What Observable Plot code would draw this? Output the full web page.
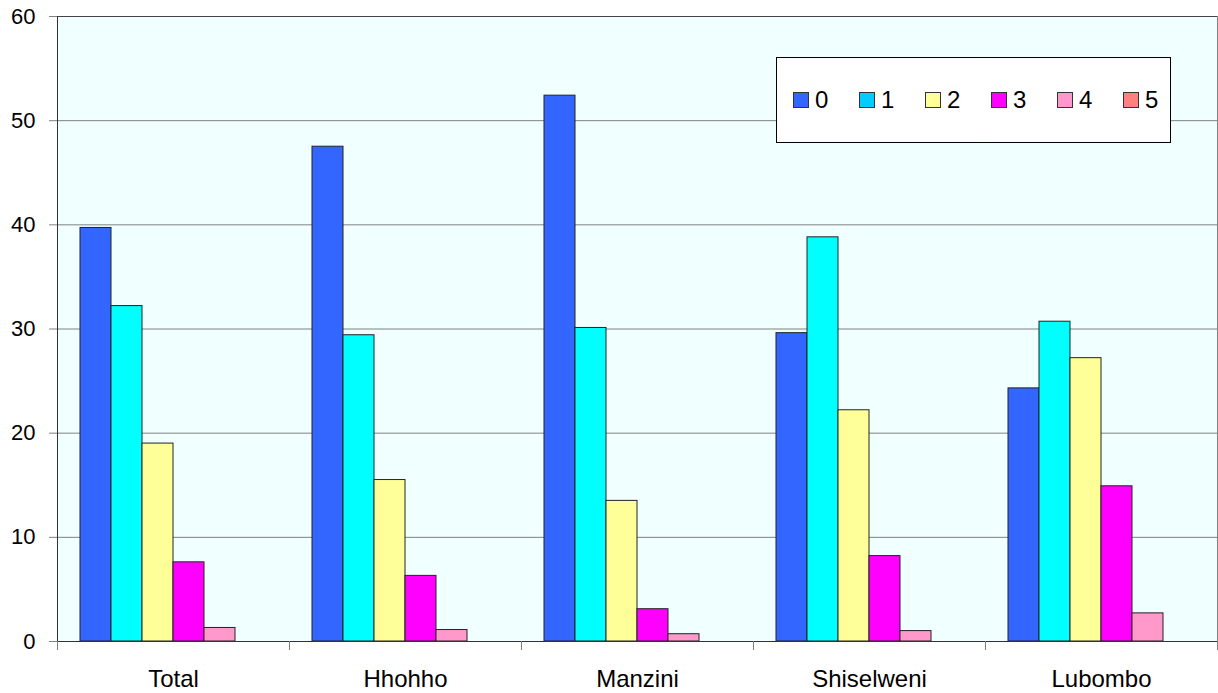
<!DOCTYPE html>
<html>
<head>
<meta charset="utf-8">
<script src="https://cdn.jsdelivr.net/npm/d3@7"></script>
<script src="https://cdn.jsdelivr.net/npm/@observablehq/plot@0.6"></script>
<style>
  html, body { margin: 0; padding: 0; background: #fff; }
  #wrap { position: relative; width: 1218px; height: 693px; font-family: "Liberation Sans", Arial, sans-serif; }
  #legend {
    position: absolute; left: 776px; top: 57px; width: 377px; height: 84px;
    background: #fff; border: 1px solid #000; box-sizing: content-box;
    display: flex; align-items: center; padding-left: 16px; overflow: visible;
  }
  .item { display: flex; align-items: center; flex: 0 0 66px; width: 66px; font-size: 24px; color: #000; }
  .sw { width: 14px; height: 14px; border: 1px solid #333; margin-right: 6px; flex: 0 0 auto; }
</style>
</head>
<body>
<div id="wrap"><div id="legend"></div></div>
<script>
// Regions (groups along the axis) and the series drawn for each
const regions = ["Total", "Hhohho", "Manzini", "Shiselweni", "Lubombo"];
const seriesNames = ["0", "1", "2", "3", "4", "5"];

// Percent values per series, one entry per region
const s0 = [39.7, 47.5, 52.4, 29.6, 24.3];
const s1 = [32.2, 29.4, 30.1, 38.8, 30.7];
const s2 = [19.0, 15.5, 13.5, 22.2, 27.2];
const s3 = [7.6, 6.3, 3.1, 8.2, 14.9];
const s4 = [1.3, 1.1, 0.7, 1.0, 2.7];
const s5 = [0, 0, 0, 0, 0];

const barColors = ["#3366FF", "#00FFFF", "#FFFF99", "#FF00FF", "#FF99CC", "#FF8080"];
const legendColors = ["#3366FF", "#00CCFF", "#FFFF99", "#FF00FF", "#FF99CC", "#FF8080"];
const yTicks = [0, 10, 20, 30, 40, 50, 60];

const seriesValues = [s0, s1, s2, s3, s4, s5];
const rows = [];
regions.forEach((r, i) => {
  seriesNames.forEach((s, j) => rows.push({region: r, series: s, value: seriesValues[j][i]}));
});

const chart = Plot.plot({
  width: 1218,
  height: 693,
  marginLeft: 57,
  marginRight: 1,
  marginTop: 16,
  marginBottom: 52,
  style: {fontFamily: "'Liberation Sans', Arial, sans-serif", fontSize: "24px", background: "transparent", color: "#000"},
  fx: {domain: regions, padding: 0, label: null},
  x: {domain: seriesNames, paddingInner: 0, paddingOuter: 0.74, axis: null},
  y: {domain: [0, 60], label: null},
  color: {domain: seriesNames, range: barColors},
  marks: [
    Plot.frame({fill: "#F0FFFF", stroke: "none"}),
    Plot.gridY(yTicks, {stroke: "#808080", strokeOpacity: 1}),
    Plot.barY(rows, {fx: "region", x: "series", y: "value", fill: "series", stroke: "#222", strokeWidth: 1}),
    Plot.ruleY([0], {stroke: "#333"}),
    Plot.ruleY([60], {stroke: "#444"}),
    Plot.frame({anchor: "left", facetAnchor: "left", stroke: "#333"}),
    Plot.frame({anchor: "right", facetAnchor: "right", stroke: "#808080"}),
    // short separators between regions below the baseline
    Plot.frame({anchor: "left", insetTop: 625, insetBottom: -8, stroke: "#808080"}),
    Plot.frame({anchor: "right", insetTop: 625, insetBottom: -8, stroke: "#808080"}),
    Plot.axisY(yTicks, {anchor: "left", tickSize: 8, tickPadding: 14, stroke: "#808080", fontSize: 22, label: null}),
    Plot.axisFx({anchor: "bottom", tickSize: 0, tickPadding: 28, fontSize: 24, label: null})
  ]
});
document.getElementById("wrap").prepend(chart);
chart.style.position = "absolute";
chart.style.left = "0";
chart.style.top = "0";

const legend = document.getElementById("legend");
seriesNames.forEach((s, i) => {
  const item = document.createElement("div");
  item.className = "item";
  const sw = document.createElement("div");
  sw.className = "sw";
  sw.style.background = legendColors[i];
  const label = document.createElement("span");
  label.textContent = s;
  item.append(sw, label);
  legend.append(item);
});
</script>
</body>
</html>
